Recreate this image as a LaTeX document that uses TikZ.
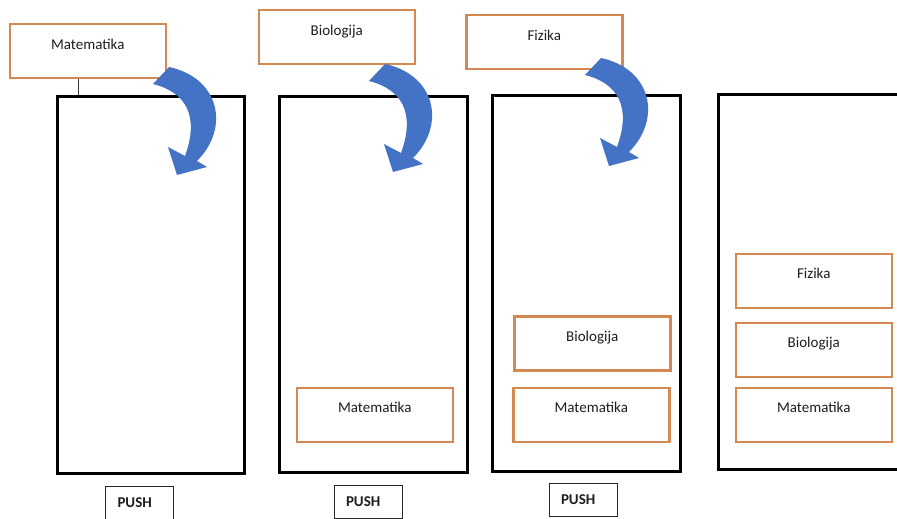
\documentclass[tikz,border=0pt]{standalone}
\usepackage{fontspec}
\setmainfont{Carlito}
\definecolor{boxorange}{RGB}{212,137,82}
\definecolor{arrowblue}{RGB}{68,114,196}
\definecolor{txt}{RGB}{30,30,30}
\begin{document}
\begin{tikzpicture}[x=1pt,y=-1pt,
  stackbox/.style={draw=black, line width=3pt, anchor=north west, inner sep=0pt},
  itembox/.style={draw=boxorange, line width=2.5pt, fill=white, minimum width=156pt,
    minimum height=54pt, anchor=north west, text height=10pt, text depth=14pt,
    inner sep=2pt, font=\fontsize{15}{18}\selectfont, text=txt},
  pushbox/.style={draw=black!85, line width=1pt, anchor=north west, minimum height=33pt,
    text width=44pt, inner xsep=12pt, inner ysep=2pt, align=left, text height=11pt,
    text depth=2pt, font=\fontsize{15}{18}\selectfont\bfseries, text=txt},
  bentarrow/.pic={\fill[arrowblue] (153,84) .. controls (185,92) and (200,115) .. (185,156)
      -- (168,147) -- (177,175) -- (207,167) -- (197,161)
      .. controls (230,128) and (220,78) .. (169,67) -- cycle;}]
\useasboundingbox (0,0) rectangle (897,519);
\clip (0,0) rectangle (897,519);
\fill[white] (0,0) rectangle (897,519);
% stacks
\node[stackbox, minimum width=187pt, minimum height=377pt] (s1) at (56,95) {};
\node[stackbox, minimum width=188pt, minimum height=376pt] (s2) at (278,95) {};
\node[stackbox, minimum width=188pt, minimum height=376pt] (s3) at (491,94) {};
\node[stackbox, minimum width=260pt, minimum height=375pt] (s4) at (717,93) {};
% items to push
\node[itembox] (m1) at (8.5,23) {Matematika};
\node[itembox] (b1) at (257.5,9) {Biologija};
\node[itembox] (f1) at (465,14) {Fizika};
\draw[line width=0.8pt, black!80] ([xshift=70pt]m1.south west) -- ([xshift=70pt]m1.south west |- s1.north);
% stack 2
\node[itembox] (m2) at (295.5,386.5) {Matematika};
% stack 3
\node[itembox] (b3) at (513,315) {Biologija};
\node[itembox] (m3) at (512,386.5) {Matematika};
% stack 4
\node[itembox] (f4) at (734.5,252.5) {Fizika};
\node[itembox] (b4) at (734.5,321.5) {Biologija};
\node[itembox] (m4) at (734.5,386.5) {Matematika};
% push labels
\node[pushbox] (p1) at (105,486) {PUSH};
\node[pushbox] (p2) at (333.5,485) {PUSH};
\node[pushbox] (p3) at (548.5,482.5) {PUSH};
% arrows
\pic at (0,0) {bentarrow};
\pic at (216,-3) {bentarrow};
\pic at (432,-9) {bentarrow};
\end{tikzpicture}
\end{document}
